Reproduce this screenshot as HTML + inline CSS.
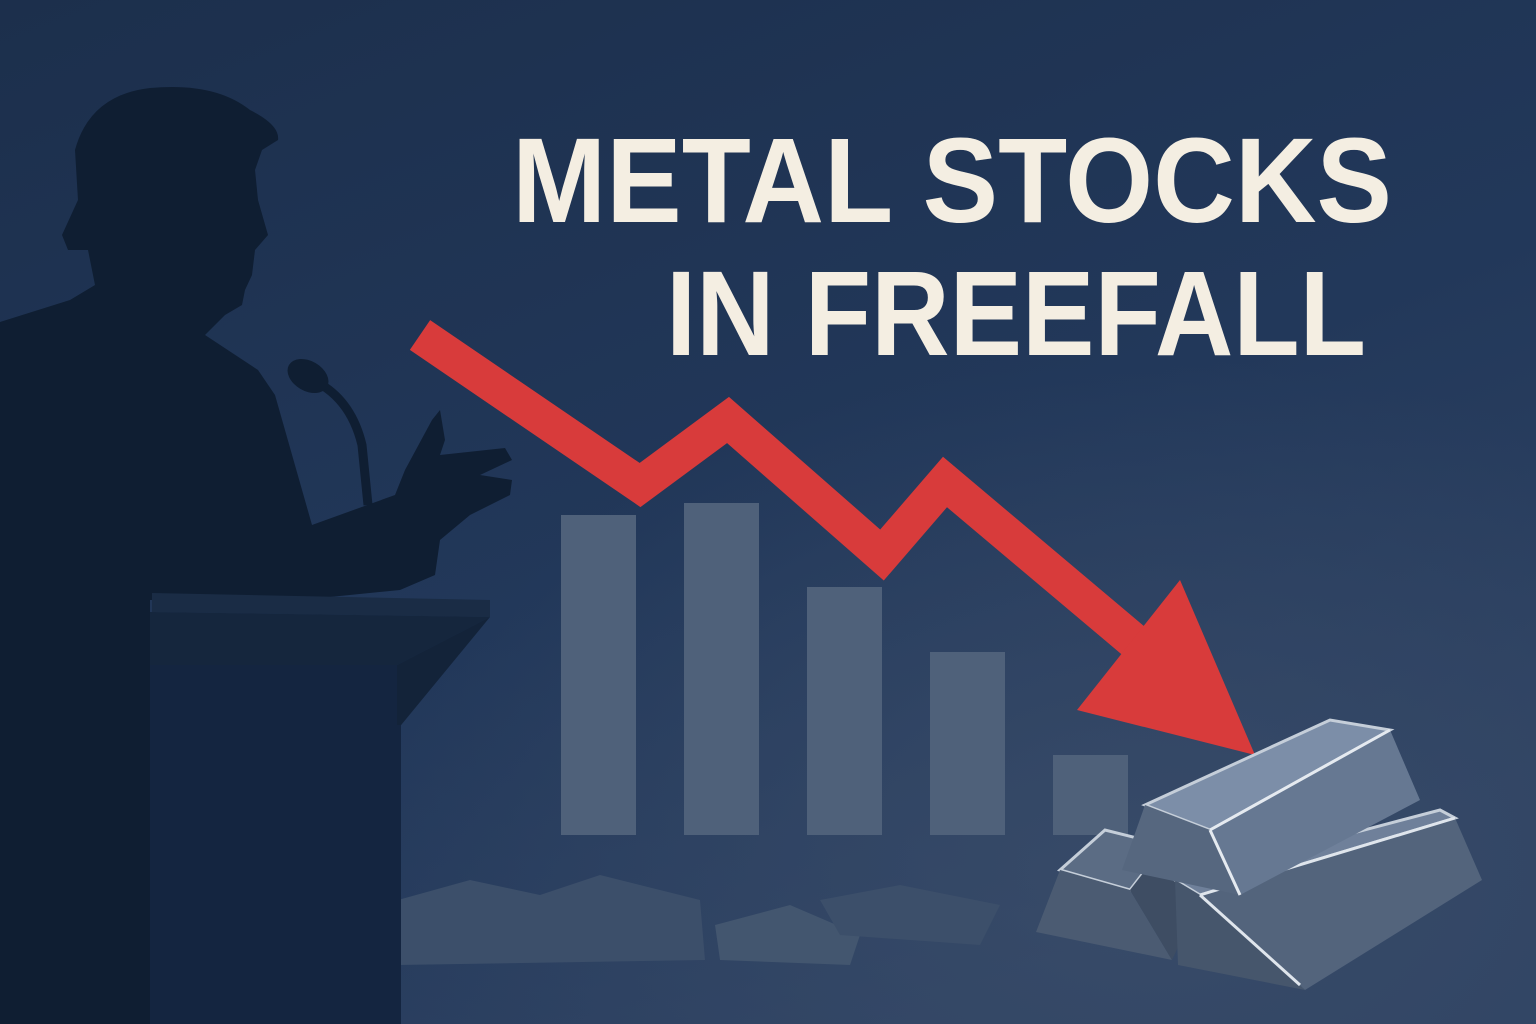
<!DOCTYPE html>
<html><head><meta charset="utf-8"><style>
html,body{margin:0;padding:0;background:#1e3250;}
svg{display:block}
</style></head><body>
<svg id="scene" width="1536" height="1024" viewBox="0 0 1536 1024" xmlns="http://www.w3.org/2000/svg">
<defs>
<linearGradient id="bg" x1="0" y1="0" x2="0.6" y2="1">
<stop offset="0" stop-color="#1c2f4c"/><stop offset="0.6" stop-color="#22385a"/><stop offset="1" stop-color="#2e4262"/>
</linearGradient>
<radialGradient id="glow" cx="0.75" cy="0.85" r="0.5">
<stop offset="0" stop-color="#3a4d6a" stop-opacity="0.8"/><stop offset="1" stop-color="#3a4d6a" stop-opacity="0"/>
</radialGradient>
</defs>
<rect width="1536" height="1024" fill="url(#bg)"/>
<rect width="1536" height="1024" fill="url(#glow)"/>

<g fill="#3c4f6a">
<polygon points="398,900 470,880 540,895 600,875 700,900 705,960 398,965"/>
<polygon points="715,925 790,905 860,935 850,965 720,960" fill="#43566f"/>
<polygon points="820,900 900,885 1000,905 980,945 840,935"/>
</g>

<g id="bars"></g>
<g id="line"></g>

<g fill="#f4eee2" font-family="Liberation Sans, sans-serif" font-weight="bold" font-size="121">
<text x="512" y="222" textLength="880" lengthAdjust="spacingAndGlyphs">METAL STOCKS</text>
<text x="666" y="355" textLength="700" lengthAdjust="spacingAndGlyphs">IN FREEFALL</text>
</g>

<g fill="#0f1e32">
<path d="M0,322 L70,300 L95,285 L88,250 L68,250 L62,235 L78,200 L75,150 Q90,95 150,88 Q215,82 250,110 Q280,125 278,140 L262,150 L255,170 L258,200 L268,235 L255,250 L252,275 L245,290 L242,305 L225,315 L205,335 L258,370 L275,395 L312,525 L395,495 L405,470 L432,420 L440,410 L445,440 L440,455 L505,448 L512,460 L480,475 L512,480 L510,495 L490,505 L470,515 L440,540 L435,575 L400,590 L300,600 L150,600 L150,1024 L0,1024 Z"/>
</g>
<g>
<path d="M308,378 Q350,395 362,445 L368,505" stroke="#0f1e32" stroke-width="9" fill="none"/>
<ellipse cx="308" cy="376" rx="22" ry="15" transform="rotate(30 308 376)" fill="#0f1e32"/>
</g>
<g>
<polygon points="152,593 490,600 490,617 152,612" fill="#1a2c45"/>
<polygon points="150,612 490,617 397,665 150,665" fill="#15263d"/>
<polygon points="397,665 490,617 397,730" fill="#132339"/>
<rect x="150" y="665" width="247" height="359" fill="#142540"/>
<rect x="397" y="725" width="4" height="299" fill="#142540"/>
</g>

<g>
<g>
<polygon points="1060,870 1105,830 1165,845 1130,890" fill="#5b6c84" stroke="#c5ced9" stroke-width="3"/>
<polygon points="1060,870 1130,890 1172,960 1036,932" fill="#4b5b72"/>
<polygon points="1130,890 1165,845 1200,900 1172,960" fill="#3e4d63"/>
</g>
<g>
<polygon points="1175,880 1440,810 1455,818 1200,895" fill="#6f809a" stroke="#c5ced9" stroke-width="3"/>
<polygon points="1200,895 1455,818 1482,880 1305,990" fill="#53647c"/>
<polygon points="1175,880 1200,895 1305,990 1178,965" fill="#46566c"/>
<polyline points="1200,895 1455,818" stroke="#dfe5ec" stroke-width="3" fill="none"/>
<polyline points="1200,895 1300,985" stroke="#dfe5ec" stroke-width="3" fill="none"/>
</g>
<g>
<polygon points="1145,805 1330,720 1390,730 1210,830" fill="#7c8ea8" stroke="#c5ced9" stroke-width="3"/>
<polygon points="1210,830 1390,730 1420,800 1240,895" fill="#667892"/>
<polygon points="1145,805 1210,830 1240,895 1122,870" fill="#56677f"/>
<polyline points="1210,830 1390,730" stroke="#e5eaf0" stroke-width="3" fill="none"/>
<polyline points="1210,830 1240,895" stroke="#e5eaf0" stroke-width="3" fill="none"/>
</g>
</g>
</svg>
<script>
var categories = ["P1","P2","P3","P4","P5"];
var barValues = [320, 332, 248, 183, 80];
var lineX = [0, 1, 2, 3, 4, 5];
var lineValues = [500, 350, 415, 280, 353, 155];

function xBar(i){ return 561 + i * 123; }
function yBar(v){ return 835 - v; }
function xLine(t){ return [420,640,728,882,945,1180][t]; }
function yLine(v){ return 835 - v; }

var NS = "http://www.w3.org/2000/svg";
var barsG = document.getElementById("bars");
for (var i = 0; i < barValues.length; i++) {
  var r = document.createElementNS(NS, "rect");
  r.setAttribute("x", xBar(i));
  r.setAttribute("y", yBar(barValues[i]));
  r.setAttribute("width", 75);
  r.setAttribute("height", barValues[i]);
  r.setAttribute("fill", "#4f617a");
  
  
  barsG.appendChild(r);
}
var lineG = document.getElementById("line");
var pts = [];
for (var j = 0; j < lineValues.length; j++) pts.push(xLine(lineX[j]) + "," + yLine(lineValues[j]));
var pl = document.createElementNS(NS, "polyline");
pl.setAttribute("points", pts.join(" "));
pl.setAttribute("fill", "none");
pl.setAttribute("stroke", "#d83b3b");
pl.setAttribute("stroke-width", "36");
pl.setAttribute("stroke-linejoin", "miter");


lineG.appendChild(pl);
var hx = xLine(lineX[lineX.length-1]), hy = yLine(lineValues[lineValues.length-1]);
var head = document.createElementNS(NS, "polygon");
head.setAttribute("points", (hx-103)+","+(hy+30)+" "+hx+","+(hy-100)+" "+(hx+75)+","+(hy+75));
head.setAttribute("fill", "#d83b3b");


lineG.appendChild(head);
</script>
</body></html>
